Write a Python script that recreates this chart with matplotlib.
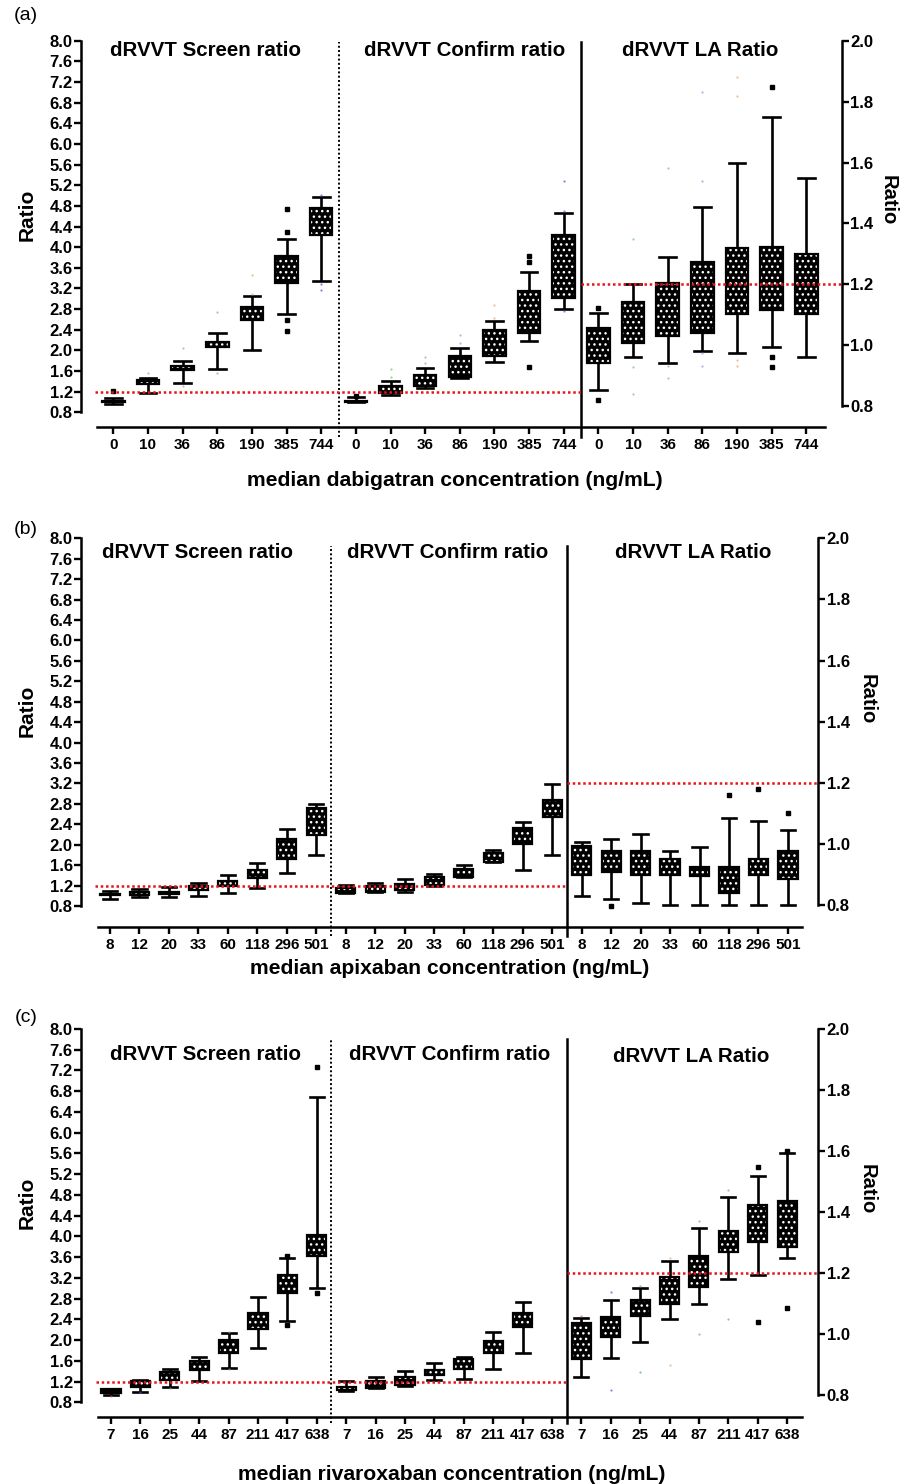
import matplotlib
matplotlib.use('Agg')
import matplotlib.pyplot as plt
from matplotlib.patches import PathPatch
import numpy as np

plt.rcParams['font.family'] = ['Liberation Sans', 'DejaVu Sans']
plt.rcParams['font.weight'] = 'bold'
plt.rcParams['hatch.linewidth'] = 1.0

W, H = 910, 1484

# ------------------------------------------------------------------ data
dab_conc = ['0', '10', '36', '86', '190', '385', '744']
dab_screen_lo = [0.97, 1.18, 1.37, 1.63, 2.00, 2.70, 3.35]
dab_screen_q1 = [0.99, 1.35, 1.62, 2.06, 2.58, 3.31, 4.24]
dab_screen_q3 = [1.01, 1.43, 1.70, 2.16, 2.84, 3.82, 4.75]
dab_screen_hi = [1.07, 1.47, 1.80, 2.33, 3.05, 4.16, 4.97]
dab_screen_out = [[1.22], [], [], [], [], [4.73, 4.30, 2.58, 2.38], []]
dab_screen_faint = [[], [1.57], [2.05, 1.31], [2.75, 1.57], [3.46, 3.10], [], [5.01, 3.29, 3.16]]

dab_confirm_lo = [0.99, 1.14, 1.27, 1.46, 1.77, 2.19, 2.81]
dab_confirm_q1 = [0.99, 1.17, 1.31, 1.49, 1.89, 2.34, 3.01]
dab_confirm_q3 = [1.01, 1.31, 1.52, 1.89, 2.39, 3.15, 4.24]
dab_confirm_hi = [1.10, 1.41, 1.65, 2.04, 2.57, 3.51, 4.67]
dab_confirm_out = [[1.12], [], [], [], [], [3.82, 3.72, 1.68], []]
dab_confirm_faint = [[], [1.63, 1.48], [1.88, 1.75], [2.30, 2.14], [2.87, 2.62], [], [5.28, 4.71, 2.76]]

dab_la_lo = [0.852, 0.959, 0.939, 0.981, 0.972, 0.992, 0.959]
dab_la_q1 = [0.942, 1.005, 1.030, 1.040, 1.101, 1.115, 1.101]
dab_la_q3 = [1.057, 1.142, 1.203, 1.274, 1.318, 1.322, 1.299]
dab_la_hi = [1.106, 1.199, 1.289, 1.455, 1.597, 1.749, 1.548]
dab_la_out = [[1.12, 0.82], [], [], [], [], [1.85, 0.959, 0.928], []]
dab_la_faint = [[], [1.348, 0.928, 0.837], [1.581, 0.931, 0.890], [1.831, 1.540, 0.972, 0.931],
                [1.880, 1.820, 0.950, 0.931], [], []]

api_conc = ['8', '12', '20', '33', '60', '118', '296', '501']
api_screen_lo = [0.94, 0.98, 0.97, 0.99, 1.05, 1.16, 1.44, 1.79]
api_screen_q1 = [1.01, 1.01, 1.04, 1.11, 1.20, 1.34, 1.72, 2.19]
api_screen_q3 = [1.04, 1.07, 1.07, 1.19, 1.29, 1.51, 2.11, 2.71]
api_screen_hi = [1.09, 1.13, 1.17, 1.26, 1.41, 1.64, 2.30, 2.80]
api_screen_out = [[], [], [], [], [], [], [], []]

api_confirm_lo = [1.05, 1.07, 1.07, 1.20, 1.36, 1.66, 1.51, 1.80]
api_confirm_q1 = [1.06, 1.08, 1.11, 1.21, 1.37, 1.67, 2.01, 2.55]
api_confirm_q3 = [1.15, 1.19, 1.24, 1.36, 1.52, 1.83, 2.32, 2.88]
api_confirm_hi = [1.21, 1.26, 1.32, 1.42, 1.60, 1.90, 2.45, 3.19]
api_confirm_out = [[], [], [], [], [], [], [], []]

api_la_lo = [0.829, 0.819, 0.808, 0.800, 0.800, 0.800, 0.800, 0.800]
api_la_q1 = [0.898, 0.909, 0.898, 0.898, 0.895, 0.838, 0.898, 0.884]
api_la_q3 = [0.993, 0.978, 0.978, 0.949, 0.925, 0.925, 0.949, 0.978]
api_la_hi = [1.007, 1.015, 1.032, 0.978, 0.991, 1.084, 1.076, 1.045]
api_la_out = [[], [0.797], [], [], [], [1.160], [1.179], [1.100]]

riv_conc = ['7', '16', '25', '44', '87', '211', '417', '638']
riv_screen_lo = [0.94, 1.00, 1.10, 1.22, 1.47, 1.85, 2.37, 3.01]
riv_screen_q1 = [0.98, 1.09, 1.23, 1.42, 1.75, 2.21, 2.90, 3.63]
riv_screen_q3 = [1.05, 1.21, 1.39, 1.60, 2.00, 2.52, 3.26, 4.03]
riv_screen_hi = [1.06, 1.23, 1.45, 1.68, 2.13, 2.83, 3.58, 6.68]
riv_screen_out = [[], [], [], [], [], [], [3.62, 2.29], [7.26, 2.90]]
riv_screen_faint = [[0.93], [0.99], [1.08], [], [2.16, 1.45], [], [], []]

riv_confirm_lo = [1.02, 1.07, 1.12, 1.23, 1.25, 1.44, 1.75, None]
riv_confirm_q1 = [1.03, 1.08, 1.13, 1.33, 1.44, 1.76, 2.26, None]
riv_confirm_q3 = [1.10, 1.21, 1.28, 1.42, 1.63, 1.98, 2.52, None]
riv_confirm_hi = [1.21, 1.29, 1.40, 1.55, 1.67, 2.15, 2.74, None]
riv_confirm_out = [[], [], [], [], [], [], [], []]

riv_la_lo = [0.860, 0.922, 0.975, 1.048, 1.100, 1.179, 1.193, 1.249]
riv_la_q1 = [0.918, 0.989, 1.059, 1.100, 1.155, 1.269, 1.302, 1.285]
riv_la_q3 = [1.037, 1.056, 1.111, 1.187, 1.255, 1.338, 1.424, 1.435]
riv_la_hi = [1.051, 1.113, 1.151, 1.239, 1.348, 1.449, 1.517, 1.593]
riv_la_out = [[], [], [], [], [], [], [1.549, 1.038], [1.086, 1.60]]
riv_la_faint = [[1.059], [1.138, 0.816], [1.157, 0.876], [1.249, 0.898], [1.369, 0.999],
                [1.471, 1.048], [], []]

dab_colors = ['#e07070', '#6cc46c', '#9aa59a', '#a98ad6', '#e6a46a', 'black', '#4d4de0']
riv_colors = ['#e05050', '#5050e0', '#50b050', '#e6a46a', '#b07ad6', '#80a080', 'black', 'black']

section_titles = ['dRVVT Screen ratio', 'dRVVT Confirm ratio', 'dRVVT LA Ratio']
left_ticks = np.round(np.arange(0.8, 8.01, 0.4), 1)
right_ticks = np.round(np.arange(0.8, 2.01, 0.2), 1)
cutoff = 1.2

# ------------------------------------------------------------------ helpers
fig = plt.figure(figsize=(W / 100, H / 100), dpi=100)


def fx(x):
    return x / W


def fy(y):
    return 1 - y / H


def draw_section(ax, start, lo, q1, q3, hi, out, faint=None, colors=None):
    stats, pos = [], []
    for i in range(len(lo)):
        if lo[i] is None:
            continue
        stats.append(dict(med=q1[i], q1=q1[i], q3=q3[i], whislo=lo[i], whishi=hi[i], fliers=[]))
        pos.append(start + i)
    bp = ax.bxp(stats, positions=pos, widths=0.65, capwidths=0.48, patch_artist=True,
                showfliers=False, manage_ticks=False,
                boxprops=dict(facecolor='black', edgecolor='white', linewidth=0, hatch='...'),
                whiskerprops=dict(color='black', linewidth=1.9, solid_capstyle='butt'),
                capprops=dict(color='black', linewidth=1.9),
                medianprops=dict(visible=False))
    for b in bp['boxes']:
        ax.add_patch(PathPatch(b.get_path(), fill=False, edgecolor='black', linewidth=1.6,
                               transform=ax.transData, zorder=b.get_zorder() + 0.1))
    for i, vals in enumerate(out):
        if vals:
            ax.plot([start + i] * len(vals), vals, 's', ms=3.0, color='black', zorder=4)
    if faint:
        for i, vals in enumerate(faint):
            if vals:
                ax.plot([start + i] * len(vals), vals, 'o', ms=1.6, mew=0,
                        color=colors[i], alpha=0.7, zorder=4)


def panel(box, xlim, ylim_l, ylim_r, conc, secs, sep_span, sep_x, spine_x, red_left_x0,
          letter, letter_xy, titles_xy, xlabel, xlabel_xy, ylab_l_xy, ylab_r_xy):
    l, t, r, b = box
    ax = fig.add_axes([fx(l), fy(b), fx(r - l), (b - t) / H])
    ax.set_xlim(*xlim)
    ax.set_ylim(*ylim_l)
    ax2 = ax.twinx()
    ax2.set_ylim(*ylim_r)
    ax2.set_xlim(*xlim)
    n = len(conc)
    draw_section(ax, 0, *secs[0])
    draw_section(ax, n, *secs[1])
    draw_section(ax2, 2 * n, *secs[2])
    for s in ['top', 'right']:
        ax.spines[s].set_visible(False)
    for s in ['top', 'left', 'bottom']:
        ax2.spines[s].set_visible(False)
    for sp in [ax.spines['left'], ax.spines['bottom'], ax2.spines['right']]:
        sp.set_linewidth(1.8)
    ax.spines['left'].set_bounds(0.8, 8.0)
    ax.spines['bottom'].set_bounds(*spine_x)
    ax2.spines['right'].set_bounds(0.8, 2.0)
    ax.set_yticks(left_ticks)
    ax.set_yticklabels([f'{v:.1f}' for v in left_ticks])
    ax2.set_yticks(right_ticks)
    ax2.set_yticklabels([f'{v:.1f}' for v in right_ticks])
    ax.set_xticks(range(3 * n))
    ax.set_xticklabels(conc * 3)
    ax.tick_params(axis='y', length=5, width=1.7, labelsize=12, pad=1)
    ax2.tick_params(axis='y', length=5, width=1.7, labelsize=12, pad=1)
    ax.tick_params(axis='x', length=5, width=1.7, labelsize=11, pad=3)
    bt, tp = sep_span
    ax.axvline(sep_x[0], ymin=bt, ymax=tp, color='black', lw=1.4, ls=(0, (1, 1.2)), clip_on=False)
    ax.axvline(sep_x[1], ymin=bt, ymax=tp, color='black', lw=1.8, clip_on=False)
    ax.hlines(cutoff, red_left_x0, sep_x[1], colors='#e8141b', lw=1.8, linestyles=[(0, (1, 1.1))], zorder=5)
    ax2.hlines(cutoff, sep_x[1], xlim[1], colors='#e8141b', lw=1.8, linestyles=[(0, (1, 1.1))], zorder=5)
    fig.text(fx(letter_xy[0]), fy(letter_xy[1]), letter, fontsize=14, fontweight='normal',
             ha='center', va='center')
    for ttl, (x, y) in zip(section_titles, titles_xy):
        fig.text(fx(x), fy(y), ttl, fontsize=14.8, ha='center', va='center')
    fig.text(fx(xlabel_xy[0]), fy(xlabel_xy[1]), xlabel, fontsize=15.2, ha='center', va='center')
    fig.text(fx(ylab_l_xy[0]), fy(ylab_l_xy[1]), 'Ratio', fontsize=15, rotation=90,
             ha='center', va='center')
    fig.text(fx(ylab_r_xy[0]), fy(ylab_r_xy[1]), 'Ratio', fontsize=14.5, rotation=270,
             ha='center', va='center')
    return ax, ax2


# panel (a)
panel(box=(81, 40.7, 842, 426.7), xlim=(-0.932, 21.03), ylim_l=(0.521, 8.0), ylim_r=(0.731, 2.001),
      conc=dab_conc,
      secs=[(dab_screen_lo, dab_screen_q1, dab_screen_q3, dab_screen_hi, dab_screen_out, dab_screen_faint, dab_colors),
            (dab_confirm_lo, dab_confirm_q1, dab_confirm_q3, dab_confirm_hi, dab_confirm_out, dab_confirm_faint, dab_colors),
            (dab_la_lo, dab_la_q1, dab_la_q3, dab_la_hi, dab_la_out, dab_la_faint, dab_colors)],
      sep_span=(-0.026, 0.997), sep_x=(6.5, 13.5), spine_x=(-0.47, 20.54), red_left_x0=-0.53,
      letter='(a)', letter_xy=(26, 16),
      titles_xy=[(205, 51), (465, 51), (700, 51)],
      xlabel='median dabigatran concentration (ng/mL)', xlabel_xy=(455, 480),
      ylab_l_xy=(27, 215), ylab_r_xy=(888, 200))

# panel (b)
panel(box=(81, 538.3, 818.3, 926.7), xlim=(-0.984, 24.03), ylim_l=(0.395, 8.0), ylim_r=(0.729, 2.0),
      conc=api_conc,
      secs=[(api_screen_lo, api_screen_q1, api_screen_q3, api_screen_hi, api_screen_out),
            (api_confirm_lo, api_confirm_q1, api_confirm_q3, api_confirm_hi, api_confirm_out),
            (api_la_lo, api_la_q1, api_la_q3, api_la_hi, api_la_out)],
      sep_span=(-0.025, 0.980), sep_x=(7.5, 15.5), spine_x=(-0.40, 23.47), red_left_x0=-0.51,
      letter='(b)', letter_xy=(26, 529),
      titles_xy=[(197, 552), (448, 552), (693, 552)],
      xlabel='median apixaban concentration (ng/mL)', xlabel_xy=(450, 968),
      ylab_l_xy=(27, 711), ylab_r_xy=(867, 699))

# panel (c)
panel(box=(81, 1029, 818.3, 1416.7), xlim=(-1.02, 24.06), ylim_l=(0.522, 8.0), ylim_r=(0.729, 2.0),
      conc=riv_conc,
      secs=[(riv_screen_lo, riv_screen_q1, riv_screen_q3, riv_screen_hi, riv_screen_out, riv_screen_faint, riv_colors),
            (riv_confirm_lo, riv_confirm_q1, riv_confirm_q3, riv_confirm_hi, riv_confirm_out),
            (riv_la_lo, riv_la_q1, riv_la_q3, riv_la_hi, riv_la_out, riv_la_faint, riv_colors)],
      sep_span=(-0.016, 0.974), sep_x=(7.5, 15.5), spine_x=(-0.43, 23.49), red_left_x0=-0.51,
      letter='(c)', letter_xy=(26, 1018),
      titles_xy=[(205, 1055), (450, 1055), (691, 1056)],
      xlabel='median rivaroxaban concentration (ng/mL)', xlabel_xy=(452, 1474),
      ylab_l_xy=(27, 1203), ylab_r_xy=(867, 1189))

fig.savefig('out.png', dpi=100)
